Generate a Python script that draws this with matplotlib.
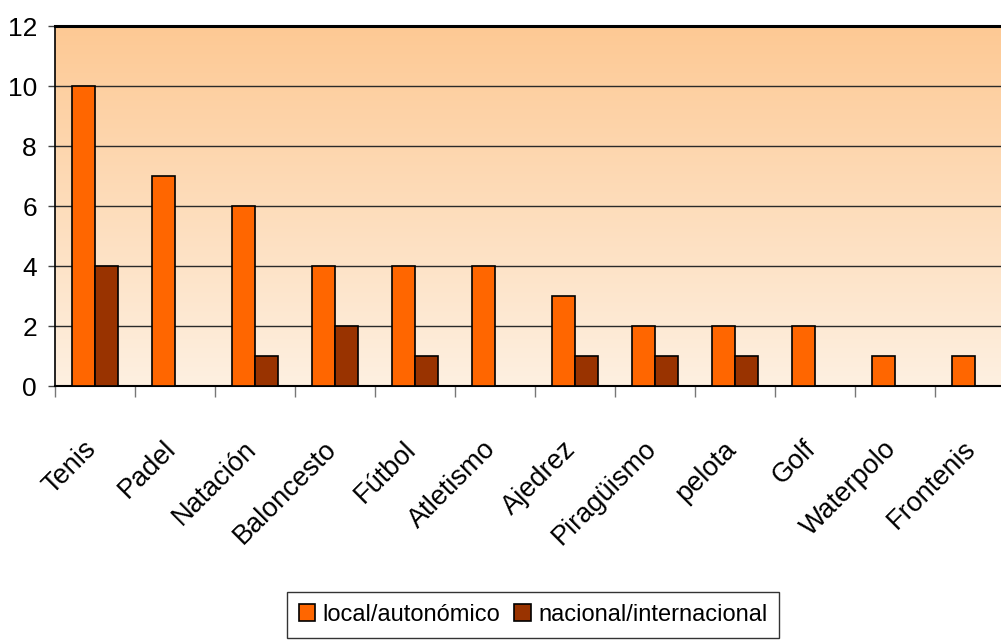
import numpy as np
import matplotlib.pyplot as plt
from matplotlib.colors import LinearSegmentedColormap
from matplotlib.patches import Patch

plt.rcParams['font.family'] = ['Liberation Sans', 'DejaVu Sans']

# data
deportes = ['Tenis', 'Padel', 'Natación', 'Baloncesto', 'Fútbol', 'Atletismo',
            'Ajedrez', 'Piragüismo', 'pelota', 'Golf', 'Waterpolo', 'Frontenis']
local = [10, 7, 6, 4, 4, 4, 3, 2, 2, 2, 1, 1]
nacional = [4, 0, 1, 2, 1, 0, 1, 1, 1, 0, 0, 0]

fig = plt.figure(figsize=(10.01, 6.44), dpi=100)
ax = fig.add_axes([55/1001, 258/644, 960/1001, 360/644])

# gradient background, orange at top fading to cream
cmap = LinearSegmentedColormap.from_list('bg', ['#FEF0E1', '#FDC994'])
grad = np.linspace(0, 1, 256).reshape(-1, 1)
ax.imshow(grad, extent=[0, 12, 0, 12], origin='lower', aspect='auto',
          cmap=cmap, zorder=0)

x = np.arange(len(deportes)) + 0.5
w = 0.2875
ax.bar(x - w/2, local, w, color='#FF6600', edgecolor='black', linewidth=1.2,
       zorder=3)
ax.bar(x + w/2, nacional, w, color='#993300', edgecolor='black', linewidth=1.2,
       zorder=3)

ax.set_xlim(0, 12)
ax.set_ylim(0, 12)
for yy in range(2, 12, 2):
    ax.axhline(yy, color='#2a2a2a', linewidth=1, zorder=1)

ax.spines['right'].set_visible(False)
ax.spines['top'].set_linewidth(2.2)
ax.spines['left'].set_linewidth(1.2)
ax.spines['bottom'].set_linewidth(1.5)

ax.set_yticks(range(0, 13, 2))
ax.tick_params(axis='y', direction='out', length=5, width=1, color='#444444',
               labelsize=19, pad=8)

ax.set_xticks(np.arange(0, 13))
ax.set_xticklabels([])
ax.tick_params(axis='x', which='major', direction='out', length=8, width=1,
               color='#777777')
# labels sit a touch right of the category centre (hidden minor ticks)
ax.set_xticks(x + 0.08, minor=True)
ax.set_xticklabels(deportes, minor=True, rotation=45, ha='right', va='top',
                   fontsize=19.5)
ax.tick_params(axis='x', which='minor', length=0, pad=36)

handles = [Patch(facecolor='#FF6600', edgecolor='black', linewidth=1.2),
           Patch(facecolor='#993300', edgecolor='black', linewidth=1.2)]
leg = fig.legend(handles, ['local/autonómico', 'nacional/internacional'],
                 loc='upper center', bbox_to_anchor=(533/1001, 52/644),
                 ncol=2, fontsize=17, frameon=True, fancybox=False,
                 edgecolor='black', handlelength=0.7, handleheight=0.7,
                 handletextpad=0.3, columnspacing=0.6, borderpad=0.5,
                 borderaxespad=0)
leg.get_frame().set_linewidth(1)

fig.savefig('out.png', dpi=100)
